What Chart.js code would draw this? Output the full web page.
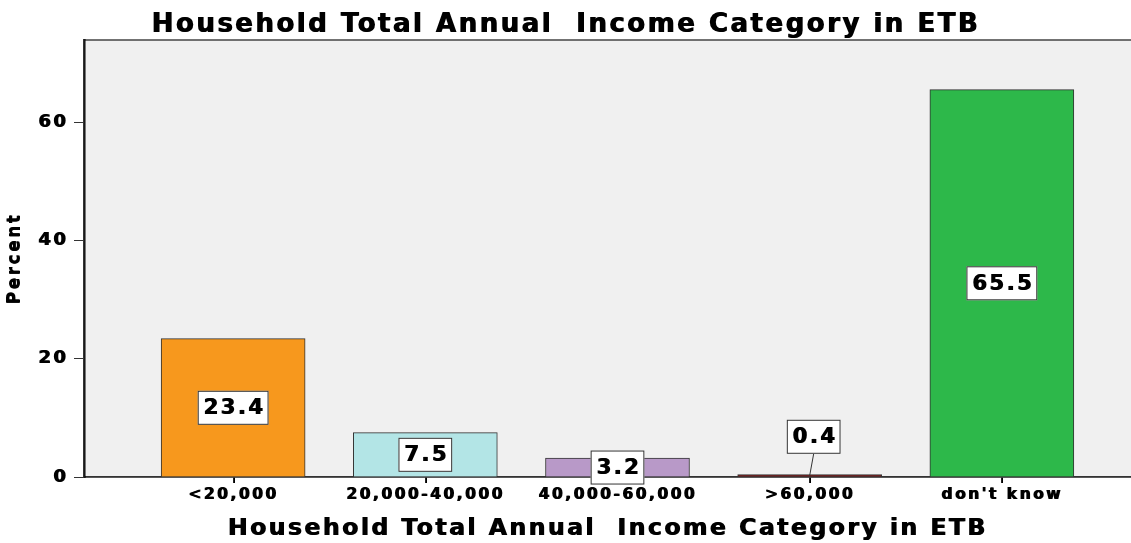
<!DOCTYPE html>
<html>
<head>
<meta charset="utf-8">
<script src="https://cdn.jsdelivr.net/npm/chart.js@4.4.0/dist/chart.umd.min.js"></script>
<style>
	body { margin: 0; background: #fff; }
	canvas { display: block; }
</style>
</head>
<body>
<canvas id="canvas1" width="1131" height="543"></canvas>
<script>

// dados do grafico
var categorias = ['<20,000', '20,000-40,000', '40,000-60,000', '>60,000', "don't know"];
var percentuais = [23.4, 7.5, 3.2, 0.4, 65.5];
var ticksY = [0, 20, 40, 60];

var tituloGrafico = 'Household Total Annual  Income Category in ETB';
var tituloEixoX = 'Household Total Annual  Income Category in ETB';
var tituloEixoY = 'Percent';

var coresBarras = ['#F7981D', '#B3E5E6', '#B899C8', '#7B1F1F', '#2DB84A'];
var fonte = "'DejaVu Sans', Arial, sans-serif";

// deixa o texto mais largo e pesado (parecido com a fonte original)
function textoPesado(ctx) {
	ctx.letterSpacing = '2.5px';
	ctx.shadowColor = '#000';
	ctx.shadowOffsetX = 1;
	ctx.shadowOffsetY = 0;
	ctx.shadowBlur = 0;
}
function textoNormal(ctx) {
	ctx.letterSpacing = '0px';
	ctx.shadowColor = 'rgba(0,0,0,0)';
	ctx.shadowOffsetX = 0;
}

window.onload = function() {

	//--------------------------- fundo cinza da area do grafico -----------------------------------
	var fundoPlugin = {
		id: 'fundo',
		beforeDraw: function(chart) {
			var a = chart.chartArea;
			var ctx = chart.ctx;
			ctx.save();
			ctx.fillStyle = '#F0F0F0';
			ctx.fillRect(a.left, a.top, a.right - a.left, a.bottom - a.top);
			ctx.strokeStyle = '#444';
			ctx.lineWidth = 1.5;
			ctx.beginPath();
			ctx.moveTo(a.left, a.top);
			ctx.lineTo(a.right, a.top);
			ctx.stroke();
			ctx.restore();
			// vale para titulo e eixos
			textoPesado(ctx);
		},
		beforeDatasetsDraw: function(chart) {
			textoNormal(chart.ctx);
		}
	};

	//--------------------------- rotulos com caixa branca -----------------------------------------
	var rotulosPlugin = {
		id: 'rotulos',
		afterDraw: function(chart) {
			var ctx = chart.ctx;
			var sy = chart.scales.y;
			var meta = chart.getDatasetMeta(0);
			ctx.save();
			textoNormal(ctx);
			ctx.font = 'bold 21px ' + fonte;
			ctx.textAlign = 'center';
			ctx.textBaseline = 'middle';
			meta.data.forEach(function(bar, i) {
				var v = percentuais[i];
				var txt = v.toFixed(1);
				var cx = bar.x;
				var cy = sy.getPixelForValue(v / 2);
				var lift = v < 1;
				if (lift) {
					cy = sy.getPixelForValue(v + 6.4);
					cx = bar.x + 4;
				}
				ctx.letterSpacing = '2.5px';
				var w = ctx.measureText(txt).width + 9;
				var h = 34;
				textoNormal(ctx);
				if (lift) {
					ctx.strokeStyle = '#333';
					ctx.lineWidth = 1;
					ctx.beginPath();
					ctx.moveTo(cx, cy + h / 2);
					ctx.lineTo(bar.x, sy.getPixelForValue(v) + 1);
					ctx.stroke();
				}
				ctx.fillStyle = '#fff';
				ctx.fillRect(cx - w / 2, cy - h / 2, w, h);
				ctx.strokeStyle = '#333';
				ctx.lineWidth = 1;
				ctx.strokeRect(cx - w / 2 + 0.5, cy - h / 2 + 0.5, w - 1, h - 1);
				textoPesado(ctx);
				ctx.fillStyle = '#000';
				ctx.fillText(txt, cx + 1, cy + 1);
				textoNormal(ctx);
			});
			ctx.restore();
		}
	};

	var pontos = categorias.map(function(c, i) {
		return { x: i, y: percentuais[i] };
	});

	var config = {
		type: 'bar',
		data: {
			datasets: [{
				label: 'Percent',
				data: pontos,
				backgroundColor: coresBarras,
				borderColor: '#333',
				borderWidth: 1,
				barThickness: 144
			}]
		},
		options: {
			responsive: false,
			animation: false,
			layout: { padding: 0 },
			plugins: {
				legend: { display: false },
				tooltip: { enabled: false },
				title: {
					display: true,
					text: tituloGrafico,
					color: '#000',
					font: { family: fonte, size: 26, weight: 'bold', lineHeight: 1.15 },
					padding: { top: 10, bottom: 0 }
				}
			},
			scales: {
				x: {
					type: 'linear',
					offset: false,
					min: -0.776,
					max: 4.672,
					afterBuildTicks: function(scale) {
						scale.ticks = categorias.map(function(c, i) { return { value: i }; });
					},
					afterFit: function(scale) {
						scale.height = 66;
					},
					ticks: {
						callback: function(v) { return categorias[v]; },
						color: '#000',
						padding: 3,
						maxRotation: 0,
						autoSkip: false,
						font: { family: fonte, size: 15.5, weight: 'bold' }
					},
					grid: {
						offset: false,
						drawOnChartArea: false,
						drawTicks: true,
						tickLength: 6,
						tickColor: '#222',
						color: '#222'
					},
					border: { display: true, color: '#333', width: 1.5 },
					title: {
						display: true,
						text: tituloEixoX,
						color: '#000',
						font: { family: fonte, size: 23.5, weight: 'bold' },
						padding: { top: 0, bottom: 0 }
					}
				},
				y: {
					min: 0,
					max: 73.9,
					afterBuildTicks: function(scale) {
						scale.ticks = ticksY.map(function(t) { return { value: t }; });
					},
					afterFit: function(scale) {
						scale.width = 84;
					},
					ticks: {
						color: '#000',
						padding: 6,
						font: { family: fonte, size: 18, weight: 'bold' }
					},
					grid: {
						drawOnChartArea: false,
						tickLength: 10,
						color: '#333'
					},
					border: { display: true, color: '#333', width: 1.5 },
					title: {
						display: true,
						text: tituloEixoY,
						color: '#000',
						font: { family: fonte, size: 17, weight: 'bold' },
						padding: { top: 4, bottom: 0 }
					}
				}
			}
		},
		plugins: [fundoPlugin, rotulosPlugin]
	};

	var ctx = document.getElementById('canvas1').getContext('2d');
	window.myBar = new Chart(ctx, config);
};
</script>
</body>
</html>
